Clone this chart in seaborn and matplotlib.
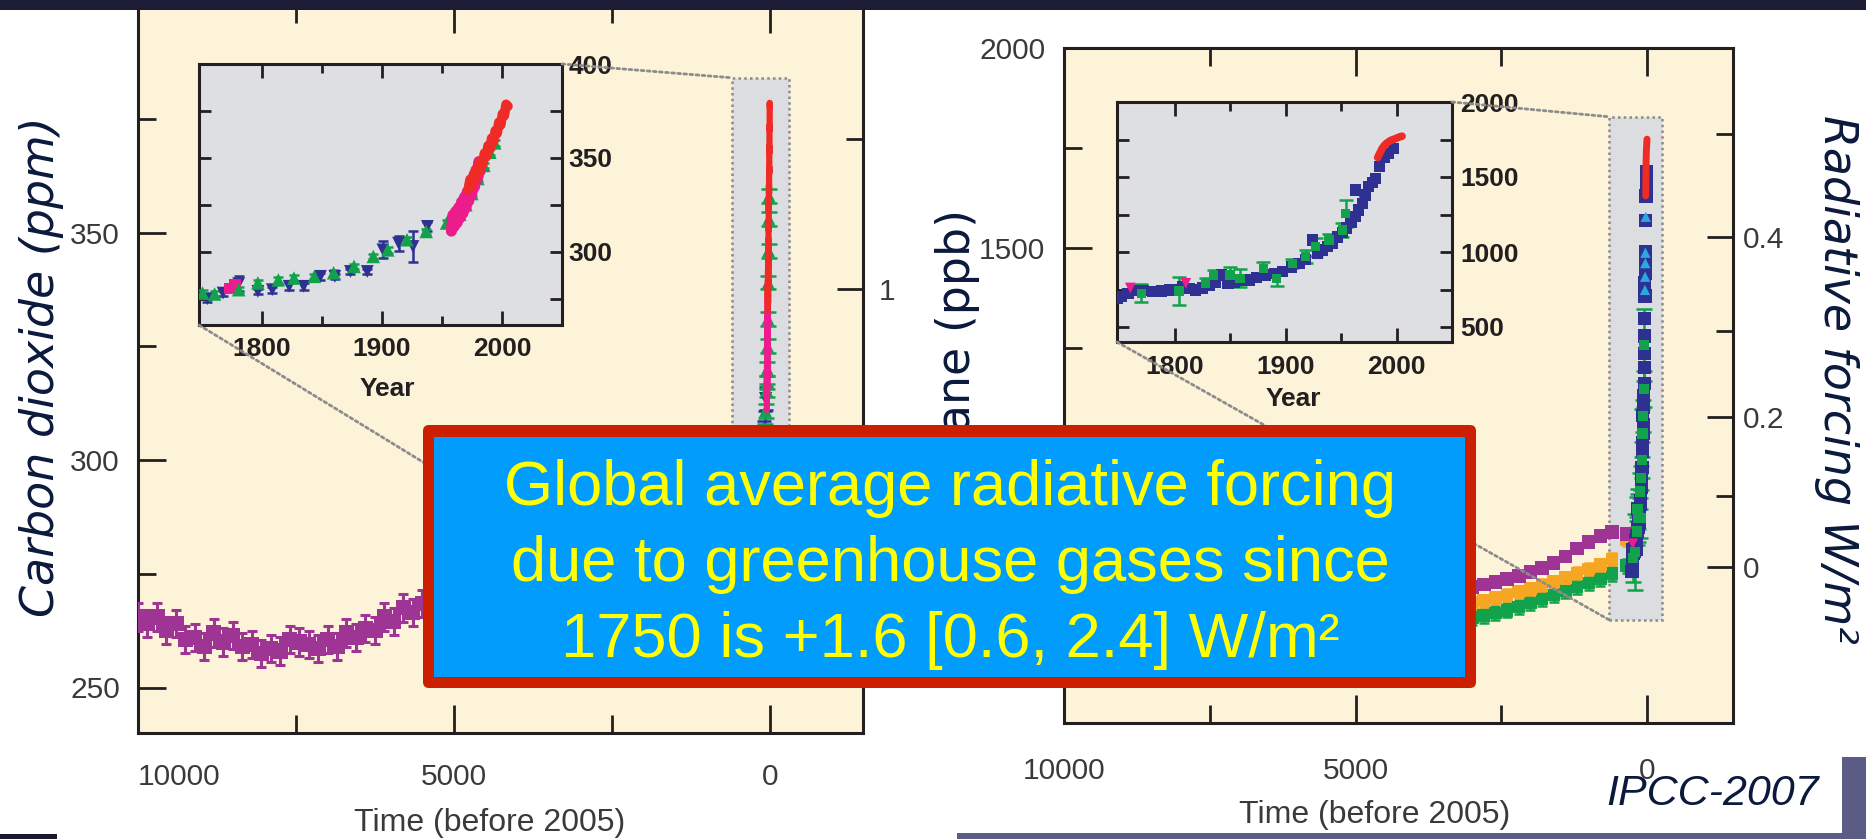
import numpy as np
import pandas as pd
import matplotlib
matplotlib.use("Agg")
import matplotlib.pyplot as plt
import seaborn as sns
from matplotlib.patches import Rectangle, FancyBboxPatch, ConnectionPatch

# ---------------- data ----------------
# Holocene CO2 (years before 2005, ppm)
co2_holo_bp = [10000, 9850, 9700, 9550, 9400, 9250, 9100, 8950, 8800, 8650, 8500, 8350, 8200, 8050,
               7900, 7750, 7600, 7450, 7300, 7150, 7000, 6850, 6700, 6550, 6400, 6250, 6100, 5950,
               5800, 5650, 5500, 5200, 4800, 4400, 4000, 3500, 3000, 2500, 2000, 1500, 1000, 700, 400]
co2_holo_ppm = [265.5, 264.0, 265.5, 262.5, 264.0, 260.5, 261.0, 259.0, 262.0, 260.0, 261.5, 259.0,
                259.5, 257.5, 258.5, 258.0, 260.5, 260.0, 259.5, 258.5, 260.5, 259.0, 262.0, 261.0,
                263.0, 262.5, 265.5, 264.5, 267.5, 266.5, 268.5, 269.0, 270.0, 271.0, 272.5, 274.0,
                275.5, 276.5, 277.5, 278.5, 279.5, 280.5, 281.0]

# Industrial-era CO2 (calendar year, ppm)
co2_lawdome_year = [1751, 1761, 1781, 1797, 1814, 1827, 1844, 1860, 1877, 1893, 1905, 1921, 1937,
                    1954, 1960, 1965, 1970, 1975, 1980, 1985, 1990, 1994]
co2_lawdome_ppm = [278.0, 277.5, 279.8, 283.4, 285.0, 286.0, 286.9, 288.8, 292.2, 297.5, 301.0,
                   306.4, 310.8, 315.3, 317.0, 320.0, 325.0, 331.0, 339.0, 346.0, 353.0, 358.0]
co2_icecore_year = [1755, 1768, 1781, 1797, 1809, 1823, 1835, 1849, 1861, 1874, 1888, 1901, 1914, 1926, 1938]
co2_icecore_ppm = [275.0, 278.0, 283.0, 278.9, 279.8, 281.6, 281.6, 286.9, 286.9, 289.5, 289.5,
                   301.0, 304.6, 302.8, 313.5]
co2_icecore_err = [1.5, 1.5, 4.0, 1.5, 1.5, 2.0, 2.0, 2.0, 1.5, 1.5, 1.5, 4.5, 4.0, 8.0, 2.5]
co2_siple_year = [1774, 1778]
co2_siple_ppm = [280.5, 282.5]
co2_ml_early_year = [1958.0, 1959.2, 1960.4, 1961.6, 1962.8, 1964.0, 1965.2, 1966.4, 1967.6, 1968.8,
                     1970.0, 1971.2, 1972.4, 1973.6, 1974.8, 1976.0, 1977.2, 1978.4, 1979.6, 1980.8, 1982.0]
co2_ml_early_ppm = [311.0, 319.5, 313.5, 321.5, 315.5, 323.5, 318.0, 326.5, 320.5, 329.0, 323.5,
                    332.0, 327.0, 335.5, 330.5, 339.5, 334.5, 343.5, 338.5, 348.0, 343.0]
co2_ml_late_year = [1972.0, 1973.5, 1975.0, 1976.5, 1978.0, 1979.5, 1981.0, 1982.5, 1984.0, 1985.5,
                    1987.0, 1988.5, 1990.0, 1991.5, 1993.0, 1994.5, 1996.0, 1997.5, 1999.0, 2000.5,
                    2002.0, 2003.5, 2005.0]
co2_ml_late_ppm = [333.0, 338.5, 335.5, 341.5, 339.0, 345.0, 342.5, 348.5, 346.5, 352.5, 350.5,
                   356.5, 354.5, 360.5, 358.5, 364.5, 363.0, 369.0, 367.5, 373.5, 372.5, 378.5, 377.5]

# Holocene CH4 (years before 2005, ppb)
ch4_holo_bp = [10000, 9500, 9000, 8500, 8000, 7500, 7000, 6500, 6000, 5500, 5000, 4500, 4000, 3500,
               3000, 2800, 2600, 2400, 2200, 2000, 1800, 1600, 1400, 1200, 1000, 800, 600, 350]
ch4_holo_purple = [690, 680, 670, 640, 610, 600, 590, 585, 580, 585, 595, 610, 625, 640,
                   652, 658, 665, 672, 680, 690, 700, 712, 728, 748, 765, 780, 790, 785]
ch4_holo_orange = [660, 650, 640, 615, 590, 580, 575, 570, 565, 568, 575, 585, 595, 605,
                   612, 618, 625, 632, 640, 648, 656, 665, 675, 686, 697, 708, 722, 770]
ch4_holo_green = [640, 630, 620, 595, 570, 560, 555, 550, 548, 550, 556, 562, 568, 572,
                  575, 580, 587, 594, 602, 612, 622, 632, 642, 652, 662, 672, 685, 705]

# Industrial-era CH4 (calendar year, ppb)
ch4_blue_year = [1748, 1752, 1758, 1765, 1772, 1780, 1788, 1795, 1801, 1807, 1813, 1819, 1825, 1831,
                 1837, 1842, 1848, 1854, 1860, 1867, 1874, 1882, 1890, 1897, 1905, 1912, 1918, 1924,
                 1929, 1933, 1938, 1942, 1947, 1951, 1955, 1959, 1963, 1963, 1966, 1969, 1972, 1975,
                 1978, 1981, 1985, 1989, 1993, 1997]
ch4_blue_ppb = [690, 705, 725, 745, 742, 736, 740, 747, 752, 769, 755, 747, 760, 780, 800, 847, 791,
                800, 810, 813, 830, 847, 858, 869, 900, 924, 950, 1080, 990, 1013, 1035, 1058, 1100,
                1130, 1160, 1200, 1236, 1413, 1280, 1324, 1380, 1436, 1465, 1491, 1569, 1630, 1658, 1691]
ch4_red_year = [1983, 1985, 1987, 1989, 1991, 1993, 1995, 1997, 1999, 2001, 2003, 2005]
ch4_red_ppb = [1630, 1660, 1690, 1710, 1725, 1735, 1745, 1750, 1755, 1762, 1768, 1772]
ch4_green_year = [1770, 1804, 1828, 1835, 1850, 1859, 1880, 1892, 1906, 1918, 1927, 1939, 1951, 1954]
ch4_green_ppb = [724, 740, 791, 847, 847, 824, 891, 824, 924, 969, 1036, 1080, 1147, 1258]
ch4_green_err = [60, 95, 35, 30, 50, 60, 45, 50, 30, 45, 60, 40, 45, 90]
ch4_magenta_year = [1760, 1810]
ch4_magenta_ppb = [760, 791]
ch4_firn_year = [1970, 1973, 1976, 1978, 1984]
ch4_firn_ppb = [1395, 1428, 1462, 1488, 1578]

# zoom-window rectangles (years before 2005 / concentration)
co2_zoom_bp = [600, -300]
co2_zoom_ppm = [258, 384]
ch4_zoom_bp = [650, -260]
ch4_zoom_ppb = [570, 1828]

# radiative forcing tick values (the labels under the text box are not visible in the slide)
co2_rf_major, co2_rf_minor = [0, 1], [0.5, 1.5]
co2_rf_labels = ['', '1']
ch4_rf_major, ch4_rf_minor = [0, 0.2, 0.4], [0.1, 0.3, 0.5]
ch4_rf_labels = ['0', '0.2', '0.4']
co2_yticks, co2_ylabels = [250, 300, 350], ['250', '300', '350']
ch4_yticks, ch4_ylabels = [500, 1000, 1500, 2000], ['', '', '1500', '2000']

box_lines = ["Global average radiative forcing",
             "due to greenhouse gases since",
             "1750 is +1.6 [0.6, 2.4] W/m\u00b2"]

# ---------------- style ----------------
sns.set_theme(style="white")
plt.rcParams['font.family'] = ['Liberation Sans', 'DejaVu Sans']
plt.rcParams['axes.unicode_minus'] = False

CREAM = '#FCF3D8'
INSET_BG = '#DEDFE2'
ZOOM_BG = '#DCDDE1'
INK = '#231F20'
TICK_TXT = '#3A3A3A'
NAVY = '#0B1A3C'
C_PURPLE = '#9E3494'
C_BLUE = '#2E3192'
C_GREEN = '#12A24B'
C_MAGENTA = '#EC1C8C'
C_RED = '#EE2B24'
C_ORANGE = '#F6A623'
C_LBLUE = '#2BA8E0'

W, H = 1866, 839
fig = plt.figure(figsize=(W / 100, H / 100), dpi=100, facecolor='white')


def frac(x0, y0, x1, y1):
    return [x0 / W, 1 - y1 / H, (x1 - x0) / W, (y1 - y0) / H]


def bp(years):
    return [2005 - y for y in years]


def co2_rf_inv(rf):
    return 280.0 * np.exp(np.asarray(rf, dtype=float) / 5.35)


def ch4_rf_inv(rf):
    return (np.asarray(rf, dtype=float) / 0.0318 + np.sqrt(703.0)) ** 2


def pts(ax, x, y, marker, color, s, z=4, yerr=None, cap=3.5, elw=1.8):
    if yerr is not None:
        ax.errorbar(x, y, yerr=yerr, fmt='none', ecolor=color, elinewidth=elw,
                    capsize=cap, capthick=elw, zorder=z - 0.5)
    sns.scatterplot(x=x, y=y, ax=ax, marker=marker, color=color, s=s,
                    edgecolor='none', linewidth=0, legend=False, zorder=z)


def band(ax, x, y, color, lw, z=5):
    sns.lineplot(x=x, y=y, ax=ax, color=color, linewidth=lw, sort=False,
                 estimator=None, errorbar=None, legend=False, zorder=z)


def style_main(ax, ylim, ymaj, ylabels, ymin, xpad, ypad):
    ax.set_facecolor(CREAM)
    for sp in ax.spines.values():
        sp.set_color(INK)
        sp.set_linewidth(2.2)
    ax.set_xlim(10000, -1475)
    ax.set_ylim(*ylim)
    ax.set_xticks([10000, 5000, 0])
    ax.set_xticklabels(['10000', '5000', '0'])
    ax.set_xticks([7500, 2500], minor=True)
    ax.set_yticks(ymaj)
    ax.set_yticklabels(ylabels)
    ax.set_yticks(ymin, minor=True)
    ax.tick_params(axis='x', which='both', direction='in', top=True, bottom=True, color=INK, width=2)
    ax.tick_params(axis='x', which='major', length=20, labelsize=21.5, labelcolor=TICK_TXT, pad=xpad)
    ax.tick_params(axis='x', which='minor', length=13)
    ax.tick_params(axis='y', which='both', direction='in', left=True, right=False, color=INK, width=2)
    ax.tick_params(axis='y', which='major', length=20, labelsize=21.5, labelcolor=TICK_TXT, pad=ypad)
    ax.tick_params(axis='y', which='minor', length=13)
    ax.set_ylabel('')
    ax.set_xlabel('Time (before 2005)', fontsize=23, color=TICK_TXT)
    ax.grid(False)


def rf_twin(ax, inv, major, minor, labels, pad):
    tw = ax.twinx()
    tw.set_ylim(ax.get_ylim())
    tw.set_yticks(inv(major))
    tw.set_yticklabels(labels)
    tw.set_yticks(inv(minor), minor=True)
    for sp in tw.spines.values():
        sp.set_visible(False)
    tw.tick_params(axis='y', which='both', direction='in', color=INK, width=2)
    tw.tick_params(axis='y', which='major', length=19, labelsize=21.5, labelcolor=TICK_TXT, pad=pad)
    tw.tick_params(axis='y', which='minor', length=12)
    tw.grid(False)
    return tw


def style_inset(ax, ylim, ymaj, ymin, ypad, year_xy):
    ax.set_facecolor(INSET_BG)
    for sp in ax.spines.values():
        sp.set_color(INK)
        sp.set_linewidth(2.2)
    ax.set_xlim(1748, 2050)
    ax.set_ylim(*ylim)
    ax.set_xticks([1800, 1900, 2000])
    ax.set_xticklabels(['1800', '1900', '2000'], fontweight='bold')
    ax.set_xticks([1850, 1950], minor=True)
    ax.set_yticks(ymaj)
    ax.set_yticklabels([str(v) for v in ymaj], fontweight='bold')
    ax.set_yticks(ymin, minor=True)
    ax.tick_params(axis='x', which='both', direction='in', top=True, bottom=True, color=INK, width=2)
    ax.tick_params(axis='x', which='major', length=10, labelsize=19, labelcolor=INK, pad=9)
    ax.tick_params(axis='x', which='minor', length=6.5)
    ax.tick_params(axis='y', which='both', direction='in', left=True, right=True, labelleft=False,
                   labelright=True, length=8.5, color=INK, width=2, labelsize=19, labelcolor=INK, pad=ypad)
    ax.set_ylabel('')
    ax.set_xlabel('Year', fontsize=19, fontweight='bold', color=INK)
    ax.xaxis.set_label_coords(*year_xy)
    ax.grid(False)


# ---------------- CO2 panel ----------------
ax_c = fig.add_axes(frac(138, 5, 863, 733))
ax_c.add_patch(Rectangle((co2_zoom_bp[0], co2_zoom_ppm[0]), co2_zoom_bp[1] - co2_zoom_bp[0],
                         co2_zoom_ppm[1] - co2_zoom_ppm[0], facecolor=ZOOM_BG, edgecolor='#8A8A8A',
                         linestyle=(0, (1, 1.3)), linewidth=1.8, zorder=1))
pts(ax_c, co2_holo_bp, co2_holo_ppm, 's', C_PURPLE, 120, yerr=[3.0] * len(co2_holo_bp), elw=2.2)
pts(ax_c, bp(co2_icecore_year), co2_icecore_ppm, 'v', C_BLUE, 90, yerr=co2_icecore_err, cap=5)
pts(ax_c, bp(co2_lawdome_year), co2_lawdome_ppm, '^', C_GREEN, 90, z=4.2,
    yerr=[1.5] * len(co2_lawdome_year), cap=6)
pts(ax_c, bp(co2_siple_year), co2_siple_ppm, 's', C_MAGENTA, 60)
band(ax_c, bp(co2_ml_early_year), co2_ml_early_ppm, C_MAGENTA, 4.5)
band(ax_c, bp(co2_ml_late_year), co2_ml_late_ppm, C_RED, 4.5, z=5.5)
style_main(ax_c, (240, 400), co2_yticks, co2_ylabels, [275, 325, 375], 21.5, 13)
xl = ax_c.get_xticklabels()
xl[0].set_horizontalalignment('left')
ax_c.xaxis.set_label_coords((490 - 138) / 725, (733 - 808) / 728)
rf_twin(ax_c, co2_rf_inv, co2_rf_major, co2_rf_minor, co2_rf_labels, 11)

# CO2 inset
ax_ci = fig.add_axes(frac(199, 64, 562, 325))
pts(ax_ci, co2_icecore_year, co2_icecore_ppm, 'v', C_BLUE, 85, yerr=co2_icecore_err)
pts(ax_ci, co2_lawdome_year, co2_lawdome_ppm, '^', C_GREEN, 95, z=4.2, yerr=[1.5] * len(co2_lawdome_year))
pts(ax_ci, co2_siple_year, co2_siple_ppm, 's', C_MAGENTA, 70)
band(ax_ci, co2_ml_early_year, co2_ml_early_ppm, C_MAGENTA, 8)
band(ax_ci, co2_ml_late_year, co2_ml_late_ppm, C_RED, 7, z=5.5)
style_inset(ax_ci, (261, 400), [300, 350, 400], [275, 325, 375], 4.5,
            ((387 - 199) / 363, (325 - 377) / 261))

# ---------------- CH4 panel ----------------
ax_m = fig.add_axes(frac(1064, 48, 1733, 723))
ax_m.add_patch(Rectangle((ch4_zoom_bp[0], ch4_zoom_ppb[0]), ch4_zoom_bp[1] - ch4_zoom_bp[0],
                         ch4_zoom_ppb[1] - ch4_zoom_ppb[0], facecolor=ZOOM_BG, edgecolor='#8A8A8A',
                         linestyle=(0, (1, 1.3)), linewidth=1.8, zorder=1))
pts(ax_m, ch4_holo_bp, ch4_holo_green, 's', C_GREEN, 85, yerr=[18] * len(ch4_holo_bp))
pts(ax_m, ch4_holo_bp, ch4_holo_orange, 's', C_ORANGE, 85, yerr=[15] * len(ch4_holo_bp))
pts(ax_m, ch4_holo_bp, ch4_holo_purple, 's', C_PURPLE, 95)
pts(ax_m, bp(ch4_blue_year), ch4_blue_ppb, 's', C_BLUE, 90)
pts(ax_m, bp(ch4_firn_year), ch4_firn_ppb, '^', C_LBLUE, 55, z=4.4)
pts(ax_m, bp(ch4_green_year), ch4_green_ppb, 's', C_GREEN, 55, z=4.3, yerr=ch4_green_err, cap=6)
pts(ax_m, bp(ch4_magenta_year), ch4_magenta_ppb, 'v', C_MAGENTA, 60)
band(ax_m, bp(ch4_red_year), ch4_red_ppb, C_RED, 5)
style_main(ax_m, (312, 2000), ch4_yticks, ch4_ylabels, [750, 1250, 1750], 24.5, 13.5)
ax_m.xaxis.set_label_coords((1375 - 1064) / 669, (723 - 800) / 675)
rf_twin(ax_m, ch4_rf_inv, ch4_rf_major, ch4_rf_minor, ch4_rf_labels, 7)

# CH4 inset
ax_mi = fig.add_axes(frac(1117, 102, 1452, 342))
pts(ax_mi, ch4_blue_year, ch4_blue_ppb, 's', C_BLUE, 65)
pts(ax_mi, ch4_firn_year, ch4_firn_ppb, '^', C_BLUE, 45)
pts(ax_mi, ch4_magenta_year, ch4_magenta_ppb, 'v', C_MAGENTA, 60)
pts(ax_mi, ch4_green_year, ch4_green_ppb, 's', C_GREEN, 45, z=4.3, yerr=ch4_green_err, cap=5)
band(ax_mi, ch4_red_year, ch4_red_ppb, C_RED, 5.5)
style_inset(ax_mi, (400, 2000), [500, 1000, 1500, 2000], [750, 1250, 1750], 6,
            ((1293 - 1117) / 335, (342 - 387) / 240))

# connectors from the insets to the zoom windows
for ins, main, zx, zy in [(ax_ci, ax_c, co2_zoom_bp, co2_zoom_ppm), (ax_mi, ax_m, ch4_zoom_bp, ch4_zoom_ppb)]:
    for a, b in [((1, 1), (zx[0], zy[1])), ((0, 0), (zx[0], zy[0]))]:
        cp = ConnectionPatch(xyA=a, coordsA=ins.transAxes, xyB=b, coordsB=main.transData,
                             color='#8C8C8C', linewidth=2.0, linestyle=(0, (1, 1.2)), zorder=2)
        fig.add_artist(cp)

# ---------------- axis titles ----------------
fig.text(42 / W, 1 - 367 / H, 'Carbon dioxide (ppm)', rotation=90, ha='center', va='center',
         fontsize=33, fontstyle='italic', family=['DejaVu Sans'], color=NAVY, zorder=15)
fig.text(957 / W, 1 - 378 / H, 'Methane (ppb)', rotation=90, ha='center', va='center',
         fontsize=33, family=['DejaVu Sans'], color=NAVY, zorder=15)
fig.text(1836 / W, 1 - 379 / H, 'Radiative forcing W/m\u00b2', rotation=-90, ha='center', va='center',
         fontsize=33, fontstyle='italic', family=['DejaVu Sans'], color=NAVY, zorder=15)

# ---------------- overlay box ----------------
def P(x, y):
    return (x / 100, (H - y) / 100)

fig.add_artist(FancyBboxPatch(P(423, 688), (1476 - 423) / 100, (688 - 425) / 100,
                              boxstyle='round,pad=0,rounding_size=0.06', transform=fig.dpi_scale_trans,
                              facecolor='#CC1F00', edgecolor='none', zorder=20))
fig.add_artist(Rectangle(P(434, 677), (1465 - 434) / 100, (677 - 437) / 100,
                         transform=fig.dpi_scale_trans, facecolor='#019CFC', edgecolor='none', zorder=21))
for line, base in zip(box_lines, [505, 581, 657]):
    fig.text(950 / W, 1 - base / H, line, ha='center', va='baseline', fontsize=45.5,
             color='#FFFF00', family=['Liberation Sans', 'DejaVu Sans'], zorder=22)

fig.text(1713 / W, 1 - 794 / H, 'IPCC-2007', ha='center', va='center', fontsize=31,
         fontstyle='italic', color=NAVY, zorder=22)

# ---------------- slide decorations ----------------
fig.add_artist(Rectangle((0, 1 - 10 / H), 1, 10 / H, transform=fig.transFigure,
                         facecolor='#1D1C36', edgecolor='none', zorder=30))
fig.add_artist(Rectangle(P(1842, 839), 24 / 100, 82 / 100, transform=fig.dpi_scale_trans,
                         facecolor='#5B5C85', edgecolor='none', zorder=30))
fig.add_artist(Rectangle(P(957, 839), (1866 - 957) / 100, 6 / 100, transform=fig.dpi_scale_trans,
                         facecolor='#5B5C85', edgecolor='none', zorder=30))
fig.add_artist(Rectangle(P(0, 839), 57 / 100, 5 / 100, transform=fig.dpi_scale_trans,
                         facecolor='#1A1A2E', edgecolor='none', zorder=30))

fig.savefig('out.png', dpi=100, facecolor='white')
